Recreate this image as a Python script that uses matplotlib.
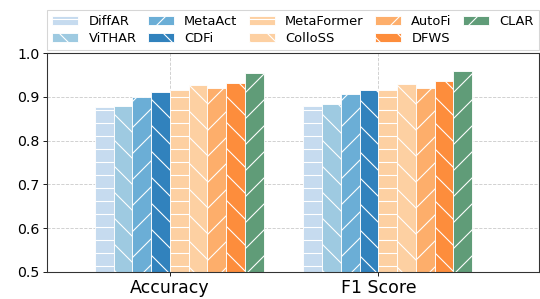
import matplotlib
matplotlib.use('Agg')
import matplotlib.pyplot as plt
import numpy as np

# Métodos e valores
metodos = ['DiffAR', 'ViTHAR', 'MetaAct', 'CDFi', 'MetaFormer',
           'ColloSS', 'AutoFi', 'DFWS', 'CLAR']
metricas = ['Accuracy', 'F1 Score']
accuracy = [0.878, 0.880, 0.901, 0.912, 0.916, 0.928, 0.921, 0.933, 0.954]
f1_score = [0.880, 0.883, 0.907, 0.915, 0.916, 0.929, 0.921, 0.937, 0.960]

cores = ['#c6dbef', '#9ecae1', '#6baed6', '#3182bd', '#fdd0a2',
         '#fdd0a2', '#fdae6b', '#fd8d3c', '#609c78']
hachuras = ['-', '\\', '/', '\\', '-', '\\', '/', '\\', '/']

dpi = 78
fig = plt.figure(figsize=(540 / dpi, 299 / dpi), dpi=dpi)
ax = fig.add_axes([0.087, 0.0913, 0.911, 0.7304])

x = np.arange(len(metricas))
w = 0.09
for i, nome in enumerate(metodos):
    valores = [accuracy[i], f1_score[i]]
    ax.bar(x + (i - 4) * w, valores, w, align='edge', color=cores[i],
           edgecolor='white', linewidth=0.8, hatch=hachuras[i], label=nome)

ax.set_ylim(0.5, 1.0)
ax.set_xlim(-0.59, 1.77)
ax.set_xticks(x)
ax.set_xticklabels(metricas, fontsize=16)
ax.set_yticks(np.arange(0.5, 1.01, 0.1))
ax.set_yticklabels(['%.1f' % v for v in np.arange(0.5, 1.01, 0.1)], fontsize=13)
ax.grid(True, linestyle='--', color='#cccccc', linewidth=0.8)
ax.set_axisbelow(True)
for s in ax.spines.values():
    s.set_color('#333333')
    s.set_linewidth(1.0)

ax.legend(ncol=5, loc='lower left', bbox_to_anchor=(0, 1.015, 1.0, 0.2),
          mode='expand', borderaxespad=0, fontsize=12, labelspacing=0.3,
          handlelength=2.0, handletextpad=0.8, fancybox=False,
          edgecolor='#cccccc')

fig.savefig('out.png', dpi=dpi)
